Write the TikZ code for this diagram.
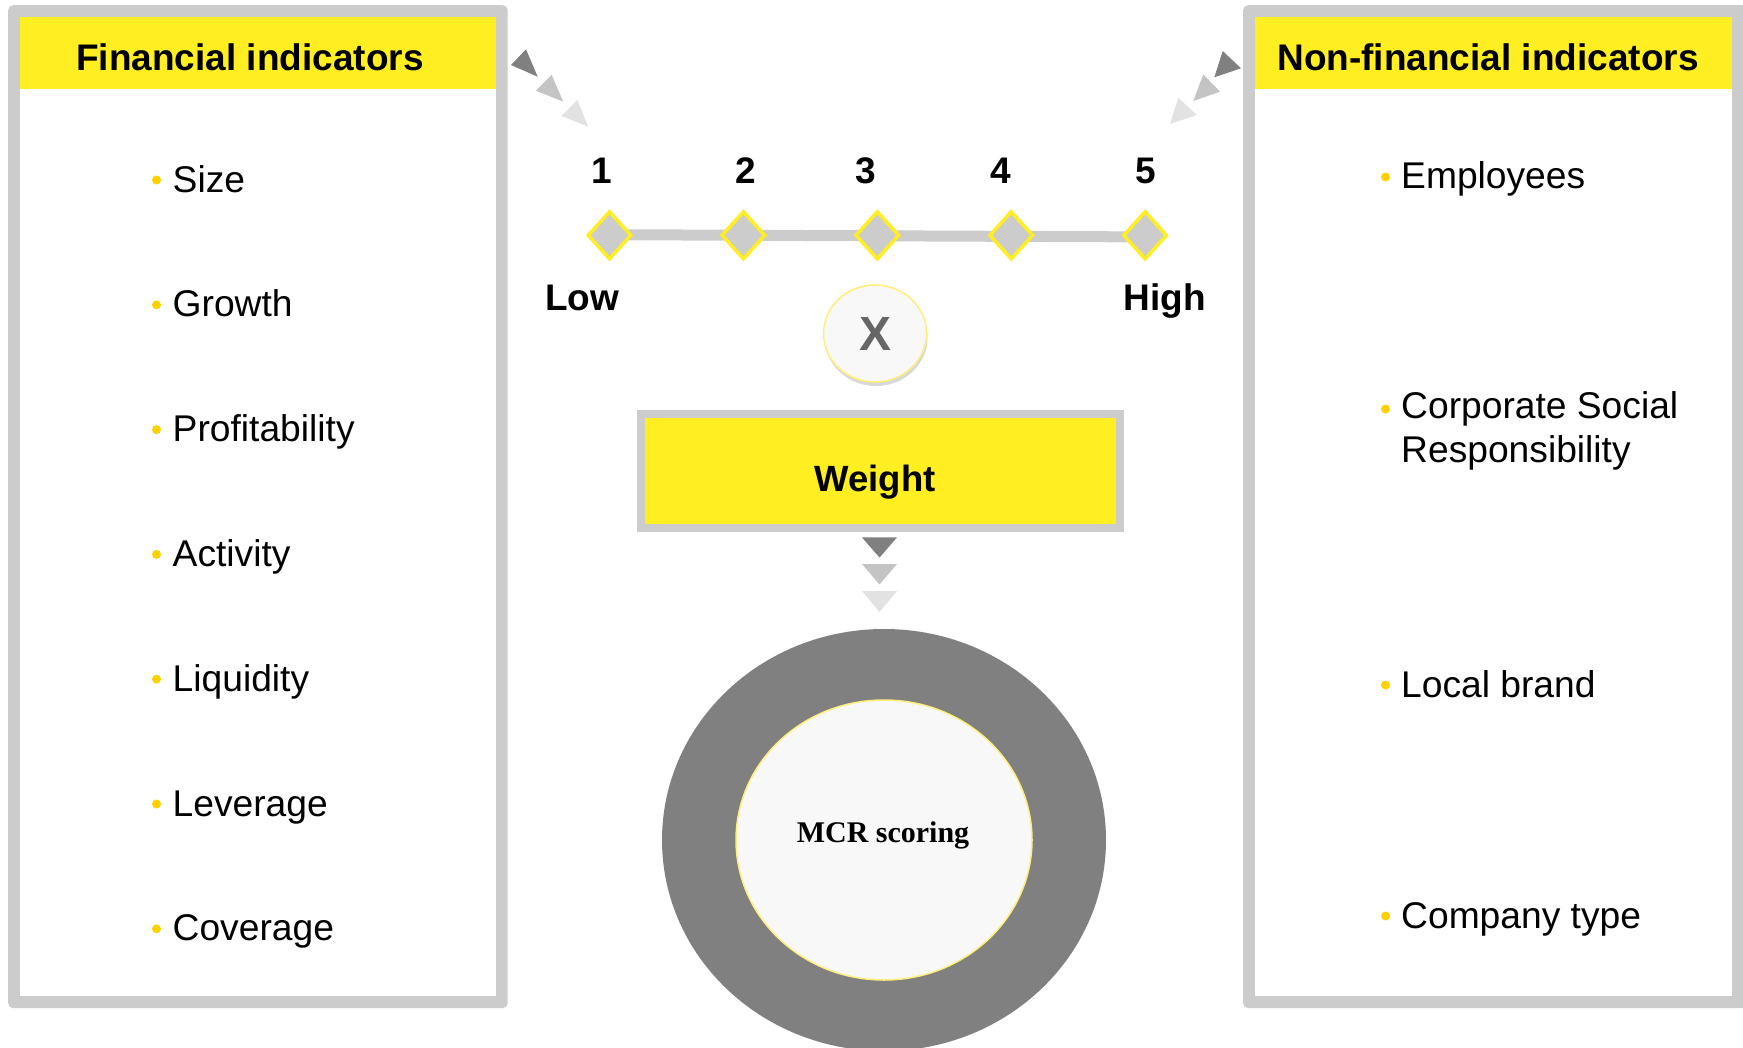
\documentclass[tikz,border=0pt]{standalone}
\usepackage{fontspec}
\setmainfont{Liberation Sans}
\newfontfamily\mcrfont{Liberation Serif}
\usetikzlibrary{shapes.geometric,shadows,backgrounds}
\definecolor{eyyellow}{HTML}{FFEE22}
\definecolor{bulletgold}{HTML}{FFD000}
\definecolor{panelgray}{HTML}{CCCCCC}
\definecolor{tridark}{HTML}{808080}
\definecolor{trimid}{HTML}{C4C4C4}
\definecolor{trilight}{HTML}{E2E2E2}
\definecolor{ringgray}{HTML}{808080}
\definecolor{softwhite}{HTML}{F8F8F8}
\definecolor{paleyellow}{HTML}{FFEE77}
\definecolor{xgray}{HTML}{666666}
\tikzset{
  panelouter/.style={anchor=north west, inner sep=0pt, fill=panelgray, rounded corners=5pt},
  panelinner/.style={anchor=north west, inner sep=0pt, fill=white},
  panelhead/.style={anchor=north west, inner sep=0pt, fill=eyyellow},
  titletext/.style={anchor=base, inner sep=0pt, font=\fontsize{37}{44}\selectfont\bfseries},
  bigbold/.style={anchor=base, inner sep=0pt, font=\fontsize{37}{44}\selectfont\bfseries},
  itemtext/.style={anchor=base west, inner sep=0pt, align=left, font=\fontsize{37.2}{44}\selectfont},
  bulletdot/.style={circle, fill=bulletgold, minimum size=9pt, inner sep=0pt},
  scalediamond/.style={diamond, fill=panelgray, draw=eyyellow, line width=3.5pt, minimum width=44pt, minimum height=48.5pt, inner sep=0pt},
}
\begin{document}
\begin{tikzpicture}[x=1pt,y=-1pt]
\useasboundingbox (0,0) rectangle (1743,1047);
\begin{pgfonlayer}{background}
  \fill[white] (0,0) rectangle (1743,1047);
\end{pgfonlayer}

% ---------- left panel ----------
\node[panelouter, minimum width=499.5pt, minimum height=1003pt] (lout) at (8,5) {};
\node[panelinner, minimum width=475.6pt, minimum height=979pt] (lin) at (20,17) {};
\node[panelhead, minimum width=475.6pt, minimum height=72pt] (lhead) at (20,17) {};
\node[titletext] (ltitle) at (250,70) {Financial indicators};

\foreach \i/\t in {0/Size,1/Growth,2/Profitability,3/Activity,4/Liquidity,5/Leverage,6/Coverage}{
  \node[bulletdot] (ld\i) at (156.5,{180+124.8*\i}) {};
  \node[itemtext] (lt\i) at (172.5,{192+124.8*\i}) {\t};
}

% ---------- right panel ----------
\node[panelouter, minimum width=506pt, minimum height=1003pt] (rout) at (1243,5) {};
\node[panelinner, minimum width=476.7pt, minimum height=979pt] (rin) at (1255,17) {};
\node[panelhead, minimum width=476.7pt, minimum height=72pt] (rhead) at (1255,17) {};
\node[titletext] (rtitle) at (1488,70) {Non-financial indicators};

\node[bulletdot] (rd0) at (1385.5,177) {};
\node[itemtext] (rt0) at (1401,188) {Employees};
\node[bulletdot] (rd1) at (1385.5,409) {};
\node[itemtext] (rt1) at (1401,418) {\begin{tabular}[t]{@{}l@{}}Corporate Social\\Responsibility\end{tabular}};
\node[bulletdot] (rd2) at (1385.5,685) {};
\node[itemtext] (rt2) at (1401,697) {Local brand};
\node[bulletdot] (rd3) at (1385.5,916) {};
\node[itemtext] (rt3) at (1401,928) {Company type};

% ---------- arrows toward panels ----------
\fill[tridark]  (511,65)    -- (526,49.3)  -- (537.7,76.7) -- cycle;
\fill[trimid]   (536,90.7)  -- (551.7,75)  -- (563.3,101.7) -- cycle;
\fill[trilight] (561.7,116) -- (577.3,100) -- (588.3,126.7) -- cycle;

\fill[tridark]  (1241,68.3)  -- (1222.7,51)   -- (1214.3,77.3) -- cycle;
\fill[trimid]   (1220,91.7)  -- (1203.3,74.3) -- (1193.3,101) -- cycle;
\fill[trilight] (1196.7,115) -- (1178.3,97.7) -- (1170,124) -- cycle;

% ---------- scale ----------
\foreach \i in {1,...,5}{
  \node[scalediamond] (dm\i) at ({609.5+133.9*(\i-1)},235.3) {};
}
\begin{pgfonlayer}{background}
  \draw[panelgray, line width=11pt] ([yshift=0.6pt]dm1.center) -- ([yshift=-1.6pt]dm5.center);
\end{pgfonlayer}
\node[bigbold] (n1) at (602,183) {1};
\node[bigbold] (n2) at (746,183) {2};
\node[bigbold] (n3) at (866,183) {3};
\node[bigbold] (n4) at (1001,183) {4};
\node[bigbold] (n5) at (1146,183) {5};
\node[bigbold] (low) at (582,310) {Low};
\node[bigbold] (high) at (1165,310) {High};

% ---------- multiply sign ----------
\node[ellipse, minimum width=103pt, minimum height=97pt, inner sep=0pt,
      fill=softwhite, draw=paleyellow, line width=1.5pt,
      drop shadow={opacity=0.3, shadow xshift=1pt, shadow yshift=-4pt},
      text=xgray, font=\fontsize{48}{52}\selectfont\bfseries] (xc) at (875,333.5) {X};

% ---------- weight ----------
\node[fill=eyyellow, draw=panelgray, line width=8pt, minimum width=479pt, minimum height=114pt, inner sep=0pt] (wbox) at (880.5,471) {};
\node[bigbold, font=\fontsize{36.5}{44}\selectfont\bfseries] (wtxt) at (875,491) {Weight};

\fill[tridark]  (862,537.4) -- (897,537.4) -- (879.5,557.6) -- cycle;
\fill[trimid]   (862,564)   -- (897,564)   -- (879.5,584.5) -- cycle;
\fill[trilight] (862,591)   -- (897,591)   -- (879.5,612)   -- cycle;

% ---------- MCR scoring ----------
\node[ellipse, fill=ringgray, minimum width=444pt, minimum height=422pt, inner sep=0pt] (ring) at (884,840) {};
\node[ellipse, fill=softwhite, draw=paleyellow, line width=1.5pt, minimum width=296pt, minimum height=280pt, inner sep=0pt,
      drop shadow={opacity=0.35, shadow xshift=1pt, shadow yshift=-5pt}] (core) at (884,840) {};
\node[anchor=base, inner sep=0pt, font=\mcrfont\fontsize{30}{36}\selectfont\bfseries] (mcr) at (883,842.7) {MCR scoring};
\end{tikzpicture}
\end{document}
